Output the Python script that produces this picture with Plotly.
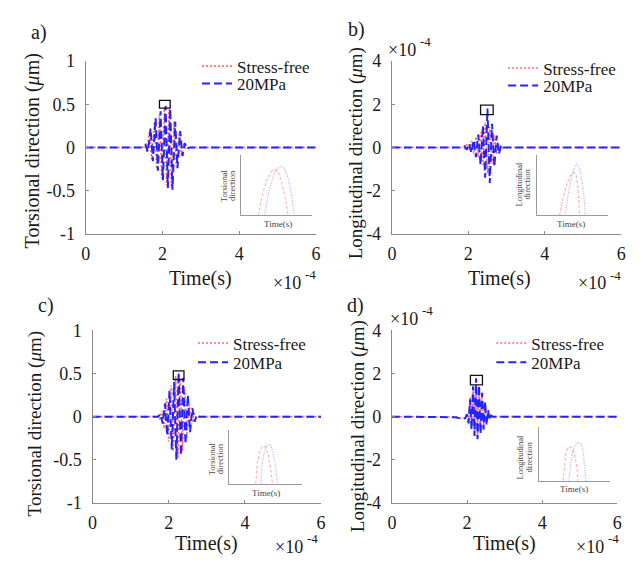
import plotly.graph_objects as go

# ---------------- data (time in units of 1e-4 s) ----------------
# a) torsional, stress-free / 20MPa
TA_SF = [0, 1.47, 1.53, 1.59, 1.66, 1.72, 1.79, 1.85, 1.92, 1.98, 2.05, 2.11, 2.17, 2.23, 2.30, 2.36, 2.43, 2.49, 2.55, 2.61, 2.67, 6]
YA_SF = [0, 0, 0.02, -0.05, 0.18, -0.14, 0.30, -0.25, 0.38, -0.36, 0.45, -0.44, 0.44, -0.46, 0.30, -0.22, 0.17, -0.09, 0.04, -0.02, 0, 0]
TA_20 = [0, 1.50, 1.56, 1.62, 1.69, 1.75, 1.82, 1.88, 1.95, 2.01, 2.08, 2.14, 2.20, 2.26, 2.33, 2.39, 2.46, 2.52, 2.58, 2.64, 2.70, 6]
YA_20 = [0, 0, 0.03, -0.05, 0.22, -0.16, 0.34, -0.27, 0.42, -0.38, 0.48, -0.47, 0.45, -0.49, 0.30, -0.24, 0.19, -0.10, 0.05, -0.02, 0, 0]

# b) longitudinal (x1e-4 um)
TB_SF = [0, 1.85, 1.90, 1.96, 2.02, 2.08, 2.14, 2.20, 2.26, 2.32, 2.38, 2.44, 2.50, 2.56, 2.62, 2.68, 2.74, 2.80, 2.86, 2.90, 6]
YB_SF = [0, 0, -0.05, 0.15, -0.12, 0.30, -0.28, 0.50, -0.45, 0.70, -0.80, 1.15, -1.20, 0.95, -0.75, 0.55, -0.30, 0.15, -0.05, 0, 0]
TB_20 = [0, 1.85, 1.90, 1.96, 2.02, 2.08, 2.14, 2.20, 2.26, 2.32, 2.38, 2.44, 2.50, 2.56, 2.62, 2.68, 2.74, 2.80, 2.86, 2.92, 6]
YB_20 = [0, 0, 0.05, -0.10, 0.18, -0.25, 0.35, -0.45, 0.60, -0.80, 1.00, -1.40, 1.80, -1.65, 1.10, -0.90, 0.55, -0.30, 0.12, 0, 0]

# c) torsional
TC_SF = [0, 1.70, 1.76, 1.82, 1.88, 1.94, 2.00, 2.06, 2.12, 2.18, 2.24, 2.30, 2.36, 2.42, 2.48, 2.54, 2.60, 2.66, 2.72, 2.78, 6]
YC_SF = [0, 0, -0.03, 0.07, -0.14, 0.21, -0.29, 0.36, -0.40, 0.47, -0.48, 0.44, -0.40, 0.31, -0.24, 0.16, -0.09, 0.04, -0.01, 0, 0]
TC_20 = [0, 1.72, 1.78, 1.84, 1.90, 1.96, 2.02, 2.08, 2.14, 2.20, 2.26, 2.32, 2.38, 2.44, 2.50, 2.56, 2.62, 2.68, 2.74, 2.80, 6]
YC_20 = [0, 0, 0.03, -0.08, 0.15, -0.22, 0.30, -0.38, 0.40, -0.50, 0.51, -0.45, 0.45, -0.32, 0.25, -0.18, 0.10, -0.06, 0.02, 0, 0]

# d) longitudinal (x1e-4 um)
TD_SF = [0, 1.55, 1.70, 1.85, 1.95, 2.00, 2.04, 2.08, 2.12, 2.16, 2.20, 2.24, 2.28, 2.32, 2.36, 2.40, 2.44, 2.48, 2.52, 2.56, 2.60, 2.64, 2.68, 6]
YD_SF = [0, 0, -0.02, -0.08, -0.06, 0.15, -0.35, 0.90, -0.50, 1.30, -0.80, 1.50, -0.95, 1.25, -0.70, 0.95, -0.50, 0.55, -0.30, 0.20, -0.10, 0.03, 0, 0]
TD_20 = [0, 1.55, 1.70, 1.85, 1.95, 2.00, 2.04, 2.08, 2.12, 2.16, 2.20, 2.24, 2.28, 2.32, 2.36, 2.40, 2.44, 2.48, 2.52, 2.56, 2.60, 2.64, 2.68, 6]
YD_20 = [0, 0, -0.03, -0.10, -0.08, 0.10, -0.30, 0.80, -0.60, 1.40, -0.90, 1.78, -1.05, 1.45, -0.80, 1.10, -0.60, 0.70, -0.40, 0.30, -0.15, 0.05, 0, 0]

# insets (normalised zoom of the boxed peak)
IA_SF_X = [0.24, 0.30, 0.36, 0.42, 0.47, 0.52, 0.57, 0.62, 0.66]
IA_SF_Y = [0, 0.35, 0.58, 0.72, 0.76, 0.72, 0.55, 0.30, 0]
IA_20_X = [0.33, 0.39, 0.45, 0.51, 0.56, 0.61, 0.66, 0.71, 0.75]
IA_20_Y = [0, 0.40, 0.64, 0.77, 0.81, 0.77, 0.62, 0.36, 0]
IB_SF_X = [0.32, 0.37, 0.42, 0.47, 0.52, 0.55, 0.57, 0.59, 0.60]
IB_SF_Y = [0, 0.30, 0.52, 0.66, 0.71, 0.66, 0.52, 0.25, 0]
IB_20_X = [0.40, 0.44, 0.48, 0.52, 0.56, 0.60, 0.63, 0.66, 0.68]
IB_20_Y = [0, 0.35, 0.60, 0.77, 0.84, 0.77, 0.58, 0.30, 0]
IC_SF_X = [0.36, 0.38, 0.41, 0.44, 0.47, 0.50, 0.53, 0.56, 0.59]
IC_SF_Y = [0, 0.35, 0.57, 0.67, 0.70, 0.67, 0.55, 0.32, 0]
IC_20_X = [0.43, 0.45, 0.48, 0.51, 0.54, 0.57, 0.60, 0.63, 0.66]
IC_20_Y = [0, 0.37, 0.60, 0.70, 0.73, 0.70, 0.57, 0.33, 0]
ID_SF_X = [0.34, 0.36, 0.38, 0.41, 0.44, 0.47, 0.50, 0.53, 0.55]
ID_SF_Y = [0, 0.32, 0.52, 0.61, 0.63, 0.60, 0.48, 0.28, 0]
ID_20_X = [0.42, 0.45, 0.48, 0.52, 0.56, 0.59, 0.62, 0.64, 0.66]
ID_20_Y = [0, 0.36, 0.58, 0.68, 0.71, 0.68, 0.55, 0.30, 0]

# boxes marking the zoomed peaks [x0, x1, y0, y1]
BOX_A = [1.92, 2.20, 0.455, 0.545]
BOX_B = [2.32, 2.65, 1.52, 1.96]
BOX_C = [2.12, 2.40, 0.43, 0.53]
BOX_D = [2.09, 2.41, 1.47, 1.91]

X_TICKS = [0, 2, 4, 6]
Y_TICKS_T = [-1, -0.5, 0, 0.5, 1]
Y_TICKS_L = [-4, -2, 0, 2, 4]
SERIES = ["Stress-free", "20MPa"]

# ---------------- layout helpers ----------------
W, H = 643, 567
FONT = "Liberation Serif"
BLUE = "rgb(35,35,255)"
RED = "rgb(255,105,105)"
AX = "#8a8a8a"
TXT = "#1a1a1a"


def px(x):
    return x / W


def py(y):
    return 1 - y / H


fig = go.Figure()

panels = [
    ("", TA_SF, YA_SF, TA_20, YA_20, "legend", "legend2"),
    ("2", TB_SF, YB_SF, TB_20, YB_20, "legend3", "legend4"),
    ("3", TC_SF, YC_SF, TC_20, YC_20, "legend5", "legend6"),
    ("4", TD_SF, YD_SF, TD_20, YD_20, "legend7", "legend8"),
]
for suf, tsf, ysf, t20, y20, leg1, leg2 in panels:
    fig.add_trace(go.Scatter(x=tsf, y=ysf, mode="lines", name=SERIES[0],
                             line=dict(color=RED, width=1.6, dash="2px,2px"),
                             xaxis="x" + suf, yaxis="y" + suf, legend=leg1))
    fig.add_trace(go.Scatter(x=t20, y=y20, mode="lines", name=SERIES[1],
                             line=dict(color=BLUE, width=2, dash="8px,4px"),
                             xaxis="x" + suf, yaxis="y" + suf, legend=leg2))

insets = [
    ("5", IA_SF_X, IA_SF_Y, IA_20_X, IA_20_Y),
    ("6", IB_SF_X, IB_SF_Y, IB_20_X, IB_20_Y),
    ("7", IC_SF_X, IC_SF_Y, IC_20_X, IC_20_Y),
    ("8", ID_SF_X, ID_SF_Y, ID_20_X, ID_20_Y),
]
for suf, xs, ys, xb, yb in insets:
    fig.add_trace(go.Scatter(x=xs, y=ys, mode="lines", showlegend=False,
                             line=dict(color="rgba(255,90,90,0.45)", width=1.2, dash="3px,2px"),
                             xaxis="x" + suf, yaxis="y" + suf))
    fig.add_trace(go.Scatter(x=xb, y=yb, mode="lines", showlegend=False,
                             line=dict(color="rgba(90,90,255,0.5)", width=1.2, dash="1px,1.5px"),
                             xaxis="x" + suf, yaxis="y" + suf))

# main axes domains in pixels: (x0, x1, ytop, ybottom)
main_dom = {
    "": (82, 316, 53, 232),
    "2": (393, 626, 53, 232),
    "3": (89, 321, 332, 511),
    "4": (393, 622, 332, 511),
}
yr = {"": [-1, 1], "2": [-4, 4], "3": [-1, 1], "4": [-4, 4]}
yt = {"": Y_TICKS_T, "2": Y_TICKS_L, "3": Y_TICKS_T, "4": Y_TICKS_L}

layout = dict(
    width=W, height=H, margin=dict(l=0, r=0, t=0, b=0),
    paper_bgcolor="white", plot_bgcolor="white",
    font=dict(family=FONT, color=TXT, size=16),
    showlegend=True,
)

for suf, (x0, x1, yt_, yb_) in main_dom.items():
    layout["xaxis" + suf] = dict(
        domain=[px(x0), px(x1)], range=[0, 6], anchor="y" + suf,
        tickvals=X_TICKS, ticktext=[str(v) for v in X_TICKS],
        showline=True, linecolor=AX, linewidth=1.3, mirror=False,
        ticks="inside", ticklen=3, tickcolor=AX, showgrid=False, zeroline=False,
        tickfont=dict(family=FONT, size=18, color=TXT), ticklabelstandoff=3,
    )
    layout["yaxis" + suf] = dict(
        domain=[py(yb_), py(yt_)], range=yr[suf], anchor="x" + suf,
        tickvals=yt[suf], ticktext=[("%g" % v) for v in yt[suf]],
        showline=True, linecolor=AX, linewidth=1.3, mirror=False,
        ticks="inside", ticklen=3, tickcolor=AX, showgrid=False, zeroline=False,
        tickfont=dict(family=FONT, size=18, color=TXT), ticklabelstandoff=6,
    )

inset_dom = {
    "5": (240, 312, 150, 213),
    "6": (540, 613, 150, 213),
    "7": (228, 302, 435, 491),
    "8": (542, 615, 432, 488),
}
for suf, (x0, x1, yt_, yb_) in inset_dom.items():
    layout["xaxis" + suf] = dict(
        domain=[px(x0), px(x1)], range=[0, 1], anchor="y" + suf,
        showline=True, linecolor="#9a9a9a", linewidth=1, showticklabels=False,
        ticks="", showgrid=False, zeroline=False, fixedrange=True,
    )
    layout["yaxis" + suf] = dict(
        domain=[py(yb_), py(yt_)], range=[0, 1], anchor="x" + suf,
        showline=True, linecolor="#9a9a9a", linewidth=1, showticklabels=False,
        ticks="", showgrid=False, zeroline=False, fixedrange=True,
    )

# legends: one per entry, (text start x, row centre y) in pixels
leg_pos = {
    "legend": (237, 65), "legend2": (237, 83),
    "legend3": (548, 67), "legend4": (548, 85),
    "legend5": (233, 352), "legend6": (233, 372),
    "legend7": (536, 352), "legend8": (536, 372),
}
for name, (tx, ty) in leg_pos.items():
    layout[name] = dict(
        x=px(tx - 42), y=py(ty - 25), xanchor="left", yanchor="top",
        bgcolor="rgba(0,0,0,0)", borderwidth=0,
        font=dict(family=FONT, size=17, color=TXT), tracegroupgap=0,
    )

fig.update_layout(**layout)

# boxes
for suf, b in [("", BOX_A), ("2", BOX_B), ("3", BOX_C), ("4", BOX_D)]:
    fig.add_shape(type="rect", xref="x" + suf, yref="y" + suf,
                  x0=b[0], x1=b[1], y0=b[2], y1=b[3],
                  line=dict(color="#111111", width=1.3), fillcolor="rgba(0,0,0,0)")

# text annotations
ann = []


def text(t, x, y, size, angle=0, color=TXT, xanchor="center"):
    ann.append(dict(text=t, x=px(x), y=py(y), xref="paper", yref="paper",
                    showarrow=False, xanchor=xanchor, yanchor="middle",
                    textangle=angle, font=dict(family=FONT, size=size, color=color)))


# panel labels
text("a)", 35, 23, 20)
text("b)", 357, 20, 20)
text("c)", 42, 306, 20)
text("d)", 356, 306, 20)
# y titles
text("Torsional direction (<i>μ</i>m)", 28, 146, 20, -90)
text("Longitudinal direction (<i>μ</i>m)", 356, 148, 19, -90)
text("Torsional direction (<i>μ</i>m)", 30, 429, 19, -90)
text("Longitudinal direction (<i>μ</i>m)", 358, 431, 19, -90)
# x titles
text("Time(s)", 199, 278, 20)
text("Time(s)", 502, 278, 20)
text("Time(s)", 205, 553, 20)
text("Time(s)", 507, 553, 20)
# exponents: (join x, base y, superscript y)
EXP_POS = [(303, 283, 274), (420, 41, 33), (613, 283, 275),
           (305, 557, 548), (422, 320, 312), (610, 557, 548)]
for ex, ey, sy in EXP_POS:
    text("×10", ex, ey, 18, xanchor="right")
    text("-4", ex, sy, 13, xanchor="left")
# inset labels
INSET_LAB = [
    ("Torsional", "direction", 222, 230, 182, 277, 222),
    ("Longitudinal", "direction", 522, 530, 180, 575, 222),
    ("Torsional", "direction", 210, 218, 465, 265, 501),
    ("Longitudinal", "direction", 523, 532, 463, 578, 497),
]
for l1, l2, x1, x2, yc, tx, ty in INSET_LAB:
    text(l1, x1, yc, 8.5, -90, "#444")
    text(l2, x2, yc, 8.5, -90, "#444")
    text("Time(s)", tx, ty, 9, 0, "#444")

fig.update_layout(annotations=ann)
fig.write_html("out.html")
